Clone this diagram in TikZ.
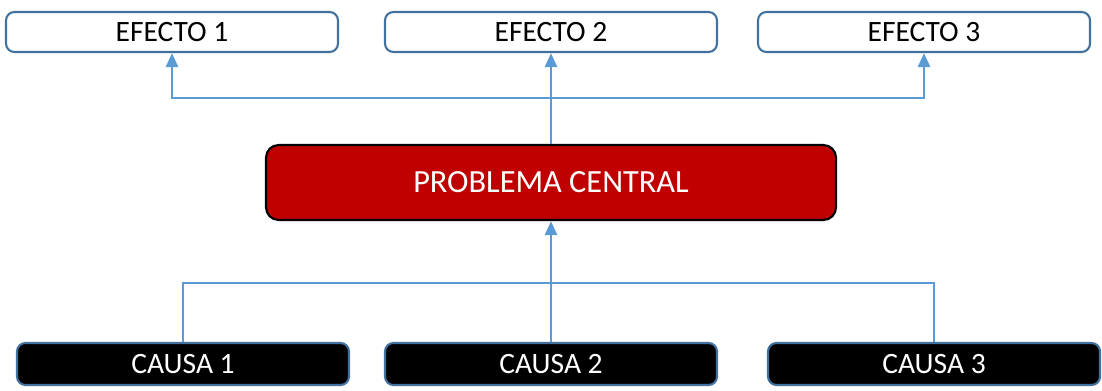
\documentclass[tikz,border=0pt]{standalone}
\usepackage{fontspec}
\setmainfont{Carlito}
\usepackage{tikz}
\usetikzlibrary{positioning,shapes,arrows.meta}
\definecolor{linkblue}{RGB}{91,155,213}
\definecolor{edgeblue}{RGB}{65,113,156}
\definecolor{darkred}{RGB}{192,0,0}
\tikzstyle{ef}=[%
      rectangle, rounded corners=6pt, draw=edgeblue, line width=1.5pt, fill=white,
      minimum height=1cm, minimum width=8.3cm, inner sep=2pt, font=\fontsize{21}{25}\selectfont
]
\tikzstyle{pc}=[%
      rectangle, rounded corners=9pt, draw=black, line width=1.5pt, fill=darkred, text=white,
      minimum height=1.875cm, minimum width=14.25cm, inner sep=2pt, font=\fontsize{23}{27}\selectfont
]
\tikzstyle{ca}=[%
      rectangle, rounded corners=6pt, draw=edgeblue, line width=1.5pt, fill=black, text=white,
      minimum height=1.05cm, minimum width=8.3cm, inner sep=2pt, font=\fontsize{21}{25}\selectfont
]
\tikzstyle{ln}=[draw=linkblue, line width=1.8pt]
\tikzstyle{arr}=[ln, -{Triangle[length=0.35cm,width=0.3cm]}]

\begin{document}
\begin{tikzpicture}
    \useasboundingbox (0,0) rectangle (27.55,9.75);

    \node[ef] (ef1) at (4.3,8.95)     {EFECTO 1};
    \node[ef] (ef2) at (13.775,8.95)  {EFECTO 2};
    \node[ef] (ef3) at (23.1,8.95)    {EFECTO 3};

    \node[pc] (pc) at (13.775,5.1875) {PROBLEMA CENTRAL};

    \node[ca] (ca1) at (4.575,0.65)   {CAUSA 1};
    \node[ca] (ca2) at (13.775,0.65)  {CAUSA 2};
    \node[ca] (ca3) at (23.35,0.65)   {CAUSA 3};

    \coordinate (tb) at (13.775,7.3);
    \coordinate (bb) at (13.775,2.675);

    % effects
    \draw[arr] (pc.north) -- (ef2.south);
    \draw[arr] (tb) -| (ef1.south);
    \draw[arr] (tb) -| (ef3.south);

    % causes
    \draw[ln] (ca1.north) |- (bb) -| (ca3.north);
    \draw[arr] (ca2.north) -- (pc.south);
\end{tikzpicture}
\end{document}
